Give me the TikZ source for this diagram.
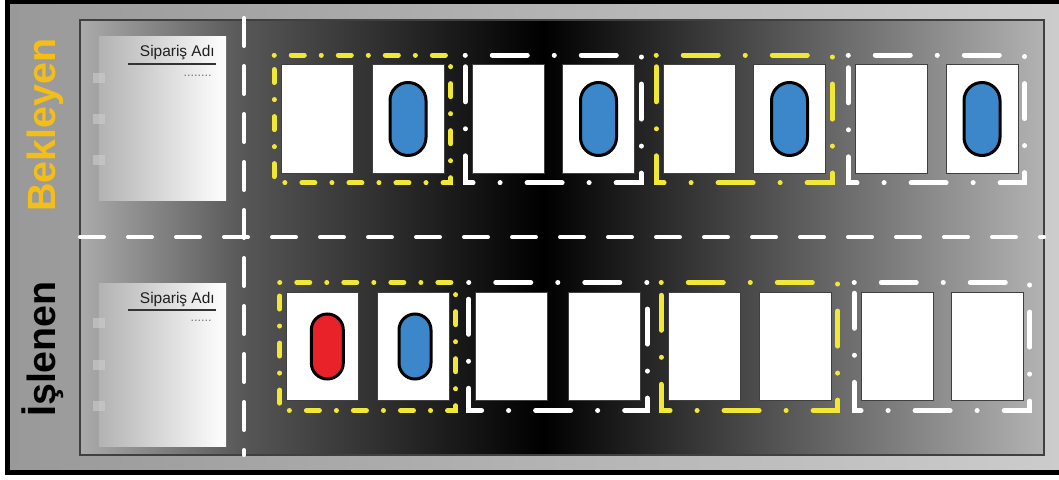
\documentclass[tikz,border=0pt]{standalone}
\usepackage{fontspec}
\setmainfont{Liberation Sans}
\usetikzlibrary{fit}

\definecolor{pillblue}{RGB}{59,135,201}
\definecolor{pillred}{RGB}{232,34,40}
\definecolor{framegold}{RGB}{240,232,52}
\definecolor{labelgold}{RGB}{243,190,24}

% dark band in the middle of the board
\pgfdeclarehorizontalshading{lanefill}{100bp}{color(0bp)=(black!33); color(25bp)=(black!33); color(33.5bp)=(black!66); color(49bp)=(black); color(75bp)=(black!30); color(100bp)=(black!30)}

\tikzset{
  card/.style={draw=black!75, line width=0.25mm, fill=white, minimum width=18mm, minimum height=27mm, inner sep=0pt},
  pill/.style={draw=black, line width=0.75mm, minimum width=9mm, minimum height=18.25mm, rounded corners=4.5mm, inner sep=0pt},
  smallpill/.style={pill, minimum width=8mm, minimum height=16.25mm, rounded corners=4mm},
  pairbox/.style={inner xsep=1.5mm, inner ysep=2.3mm},
  longdash/.style={line width=1.25mm, line cap=round, dash pattern=on 0.01mm off 6.75mm on 8.75mm off 6.75mm},
  shortdash/.style={line width=1.25mm, line cap=round, dash pattern=on 0.01mm off 4.25mm on 3.25mm off 4.25mm},
  sheet/.style={left color=black!30, right color=white, minimum width=31.75mm, minimum height=40.75mm, inner sep=0pt},
  ringtab/.style={fill=black!20, fill opacity=0.6, minimum width=3mm, minimum height=2.5mm, inner sep=0pt},
  hlane/.style={draw=white, line width=1mm, line cap=round, dash pattern=on 6mm off 6mm},
  vlane/.style={draw=white, line width=1mm, line cap=round, dash pattern=on 7mm off 5mm},
  lanelabel/.style={font=\fontsize{28}{28}\selectfont\bfseries, rotate=90, anchor=base, inner sep=0pt},
  ordertitle/.style={font=\fontsize{11}{11}\selectfont, text=black!88, anchor=base east, inner sep=0pt},
  orderdots/.style={font=\fontsize{9}{9}\selectfont, text=black!55, anchor=base east, inner sep=0pt}
}

\begin{document}
\begin{tikzpicture}[x=0.25mm, y=-0.25mm]
\useasboundingbox (0,0) rectangle (1059,480);

% board
\shadedraw[left color=black!40, right color=black!20, line width=1.25mm] (7.5,1) rectangle (1061,472);
\shadedraw[shading=lanefill, draw=black!75, line width=0.5mm] (80,20) rectangle (1044,455);
\draw[hlane] (80,237) -- (1044,237);
\draw[vlane] (244,18) -- (244,455);

% row titles
\node[lanelabel, text=labelgold] (bek) at (55,125) {Bekleyen};
\node[lanelabel, text=black] (isl) at (55,349) {İşlenen};

% order sheets
\node[sheet] (s1) at (162.5,118.5) {};
\node[sheet] (s2) at (162.5,364.5) {};
\node[ringtab] (r1) at (99,78) {};
\node[ringtab] (r2) at (99,119) {};
\node[ringtab] (r3) at (99,160) {};
\node[ringtab] (r4) at (99,323) {};
\node[ringtab] (r5) at (99,365) {};
\node[ringtab] (r6) at (99,406) {};
\node[ordertitle] (t1) at (215,57) {Sipariş Adı};
\node[ordertitle] (t2) at (215,303) {Sipariş Adı};
\draw[black!80, line width=0.5mm] (128,63.5) -- (216,63.5);
\draw[black!80, line width=0.5mm] (128,310) -- (216,310);
\node[orderdots] (d1) at (212,76) {........};
\node[orderdots] (d2) at (212,321) {......};

% waiting cards
\node[card] (b1) at (317,119) {};
\node[card] (b2) at (408,119) {};
\node[card] (b3) at (508,119) {};
\node[card] (b4) at (598.5,119) {};
\node[card] (b5) at (699,119) {};
\node[card] (b6) at (789.5,119) {};
\node[card] (b7) at (891,119) {};
\node[card] (b8) at (982,119) {};

% cards in work
\node[card] (i1) at (322.5,346.5) {};
\node[card] (i2) at (413,346.5) {};
\node[card] (i3) at (511.5,346.5) {};
\node[card] (i4) at (604.5,346.5) {};
\node[card] (i5) at (704,346.5) {};
\node[card] (i6) at (795,346.5) {};
\node[card] (i7) at (897,346.5) {};
\node[card] (i8) at (987,346.5) {};

% tokens
\node[pill, fill=pillblue] (k2) at (b2) {};
\node[pill, fill=pillblue] (k4) at (b4) {};
\node[pill, fill=pillblue] (k6) at (b6) {};
\node[pill, fill=pillblue] (k8) at (b8) {};
\node[smallpill, fill=pillred, xshift=1.2mm] (m1) at (i1) {};
\node[smallpill, fill=pillblue, xshift=0.5mm] (m2) at (i2) {};

% pair frames
\node[pairbox, fit=(b1)(b2)] (fb1) {};
\node[pairbox, fit=(b3)(b4)] (fb2) {};
\node[pairbox, fit=(b5)(b6)] (fb3) {};
\node[pairbox, fit=(b7)(b8)] (fb4) {};
\node[pairbox, fit=(i1)(i2)] (fi1) {};
\node[pairbox, fit=(i3)(i4)] (fi2) {};
\node[pairbox, fit=(i5)(i6)] (fi3) {};
\node[pairbox, fit=(i7)(i8)] (fi4) {};

\draw[shortdash, framegold] (fb1.north west) -- (fb1.north east) -- (fb1.south east) -- (fb1.south west) -- cycle;
\draw[longdash, white] (fb2.north west) -- (fb2.north east) -- (fb2.south east) -- (fb2.south west) -- cycle;
\draw[longdash, framegold] (fb3.north west) -- (fb3.north east) -- (fb3.south east) -- (fb3.south west) -- cycle;
\draw[longdash, white] (fb4.north west) -- (fb4.north east) -- (fb4.south east) -- (fb4.south west) -- cycle;
\draw[shortdash, framegold] (fi1.north west) -- (fi1.north east) -- (fi1.south east) -- (fi1.south west) -- cycle;
\draw[longdash, white] (fi2.north west) -- (fi2.north east) -- (fi2.south east) -- (fi2.south west) -- cycle;
\draw[longdash, framegold] (fi3.north west) -- (fi3.north east) -- (fi3.south east) -- (fi3.south west) -- cycle;
\draw[longdash, white] (fi4.north west) -- (fi4.north east) -- (fi4.south east) -- (fi4.south west) -- cycle;
\end{tikzpicture}
\end{document}
